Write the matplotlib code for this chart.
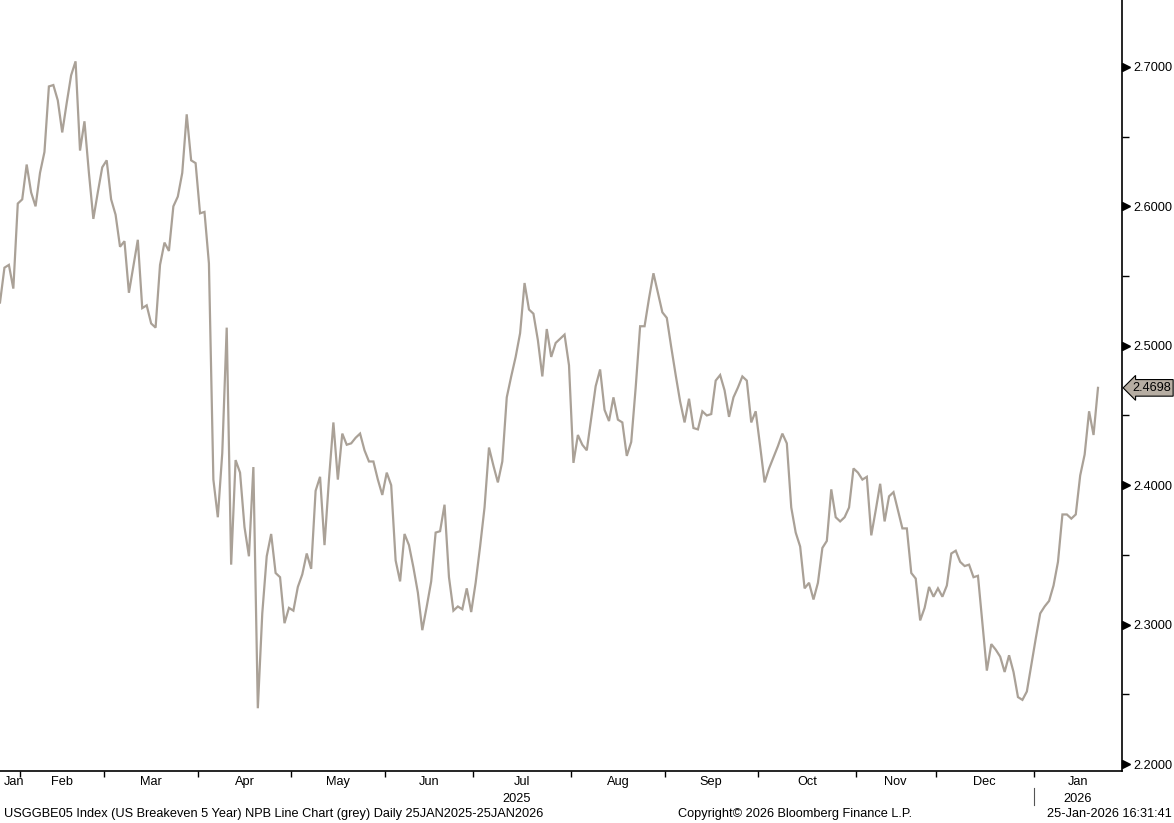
import numpy as np
import pandas as pd
import matplotlib.pyplot as plt
import matplotlib.transforms as mtransforms

plt.rcParams['font.family'] = ['Liberation Sans', 'DejaVu Sans']

# US bond market holidays inside the window (no fixing on these days)
holidays = ['2025-02-17', '2025-04-18', '2025-05-26', '2025-06-19', '2025-07-04',
            '2025-09-01', '2025-10-13', '2025-11-11', '2025-11-27', '2025-12-25',
            '2026-01-01', '2026-01-19']

# USGGBE05 daily values
breakeven = [
    2.531, 2.556, 2.558, 2.541, 2.602, 2.605, 2.630, 2.610, 2.600, 2.624,
    2.639, 2.686, 2.687, 2.676, 2.653, 2.674, 2.694, 2.704, 2.640, 2.661,
    2.624, 2.591, 2.610, 2.628, 2.633, 2.605, 2.594, 2.571, 2.575, 2.538,
    2.557, 2.576, 2.527, 2.529, 2.516, 2.513, 2.558, 2.574, 2.568, 2.600,
    2.607, 2.624, 2.666, 2.633, 2.631, 2.595, 2.596, 2.559, 2.404, 2.377,
    2.423, 2.513,
    2.343, 2.418, 2.409, 2.370, 2.349, 2.413, 2.240, 2.308, 2.349, 2.365,
    2.337, 2.334, 2.301, 2.312, 2.310, 2.327, 2.336, 2.351, 2.340, 2.396,
    2.406, 2.357, 2.404, 2.445, 2.404, 2.437, 2.429, 2.430, 2.434, 2.437,
    2.425, 2.417, 2.417, 2.404, 2.393, 2.409, 2.400, 2.346, 2.331, 2.365,
    2.357, 2.341, 2.323, 2.296, 2.313, 2.331, 2.366, 2.367, 2.386, 2.334,
    2.310, 2.313, 2.311, 2.326, 2.309, 2.330, 2.356, 2.384, 2.427, 2.414,
    2.402,
    2.417, 2.463, 2.478, 2.492, 2.509, 2.545, 2.526, 2.523, 2.504, 2.478,
    2.512, 2.492, 2.502, 2.505, 2.508, 2.486, 2.416, 2.436, 2.429, 2.425,
    2.448, 2.471, 2.483, 2.454, 2.446, 2.463, 2.447, 2.445, 2.421, 2.431,
    2.470, 2.514, 2.514, 2.534, 2.552, 2.538, 2.524, 2.520, 2.499, 2.479,
    2.460, 2.445, 2.462, 2.441, 2.440,
    2.453, 2.450, 2.451, 2.475, 2.479, 2.468, 2.449, 2.463, 2.470, 2.478,
    2.475, 2.445, 2.453, 2.428, 2.402, 2.412, 2.420, 2.428, 2.437, 2.430,
    2.384, 2.366, 2.356, 2.326, 2.330, 2.318, 2.330, 2.355, 2.360, 2.397,
    2.377, 2.374, 2.377, 2.384, 2.412, 2.409, 2.404, 2.406, 2.364, 2.382,
    2.401, 2.374, 2.392, 2.395, 2.382, 2.369, 2.369, 2.337, 2.333, 2.303,
    2.312, 2.327, 2.320, 2.326, 2.320, 2.328, 2.351, 2.353, 2.345, 2.342,
    2.343, 2.334, 2.335, 2.301, 2.267, 2.286, 2.282, 2.277, 2.266, 2.278,
    2.266, 2.248, 2.246, 2.252, 2.271, 2.290, 2.308, 2.313, 2.317, 2.328,
    2.345, 2.379, 2.379, 2.376, 2.379, 2.407, 2.422, 2.453, 2.436, 2.4698,
]
last_value = 2.4698

y_ticks = [2.2, 2.3, 2.4, 2.5, 2.6, 2.7]
y_minor = [2.25, 2.35, 2.45, 2.55, 2.65]

dates = pd.bdate_range('2025-01-27', '2026-01-23', freq='C', holidays=holidays)
n = min(len(dates), len(breakeven))
dates = dates[:n]
vals = np.array(breakeven[:n])
x = np.arange(n)

line_col = '#aaa197'
fs = 9.2

fig = plt.figure(figsize=(11.74, 8.23), dpi=100)
ax = fig.add_axes([0.0, 0.0632, 0.9557, 0.9368])
ax.plot(x, vals, color=line_col, lw=1.6, solid_joinstyle='miter')

xmax = (n - 1) + 24 / 4.444
ax.set_xlim(0, xmax)
ax.set_ylim(2.195, 2.748)

for s in ['left', 'top']:
    ax.spines[s].set_visible(False)
for s in ['right', 'bottom']:
    ax.spines[s].set_linewidth(1.2)
    ax.spines[s].set_color('black')

# y axis on the right, triangle markers for the major levels
ax.yaxis.tick_right()
ax.set_yticks(y_ticks)
ax.set_yticklabels([f'{v:.4f}' for v in y_ticks], fontsize=fs)
ax.tick_params(axis='y', which='major', length=0, pad=8)
ax.set_yticks(y_minor, minor=True)
ax.tick_params(axis='y', which='minor', length=5, width=1, direction='out')
tri = mtransforms.blended_transform_factory(ax.transAxes, ax.transData)
ax.plot([1.0035] * len(y_ticks), y_ticks, marker='>', ms=5.5, color='black',
        lw=0, transform=tri, clip_on=False)

# month boundaries and labels
xt = mtransforms.blended_transform_factory(ax.transData, ax.transAxes)
month = dates.to_period('M')
starts = [0] + [i for i in range(1, n) if month[i] != month[i - 1]]
bounds = [s - 0.5 for s in starts[1:]]
ax.set_xticks(bounds)
ax.set_xticklabels([])
ax.tick_params(axis='x', length=4, width=1, direction='out')

edges = [0] + bounds + [xmax]
for i, s in enumerate(starts):
    c = (edges[i] + edges[i + 1]) / 2
    if i == 0:
        c += 1.0
    ax.text(c, -0.006, dates[s].strftime('%b'), transform=xt,
            ha='center', va='top', fontsize=fs)

years = dates.year
year_start = [0] + [i for i in range(1, n) if years[i] != years[i - 1]]
yedges = [0] + [s - 0.5 for s in year_start[1:]] + [xmax]
for i, s in enumerate(year_start):
    c = (yedges[i] + yedges[i + 1]) / 2
    ax.text(c, -0.028, str(years[s]), transform=xt, ha='center', va='top', fontsize=fs)
for s in year_start[1:]:
    ax.plot([s - 0.5, s - 0.5], [-0.022, -0.044], color='#555555', lw=0.8,
            transform=xt, clip_on=False)

# last value tag
ax.text(1.009, last_value, f'{last_value:.4f}', transform=tri, ha='left', va='center',
        fontsize=fs, bbox=dict(boxstyle='larrow,pad=0.18', fc='#b6ada2', ec='black', lw=0.8))

fig.text(0.003, 0.011, 'USGGBE05 Index (US Breakeven 5 Year) NPB Line Chart (grey) Daily 25JAN2025-25JAN2026',
         ha='left', va='center', fontsize=fs)
fig.text(0.677, 0.011, 'Copyright\u00a9 2026 Bloomberg Finance L.P.', ha='center', va='center', fontsize=fs)
fig.text(0.998, 0.011, '25-Jan-2026 16:31:41', ha='right', va='center', fontsize=fs)

fig.savefig('out.png', dpi=100, facecolor='white')
